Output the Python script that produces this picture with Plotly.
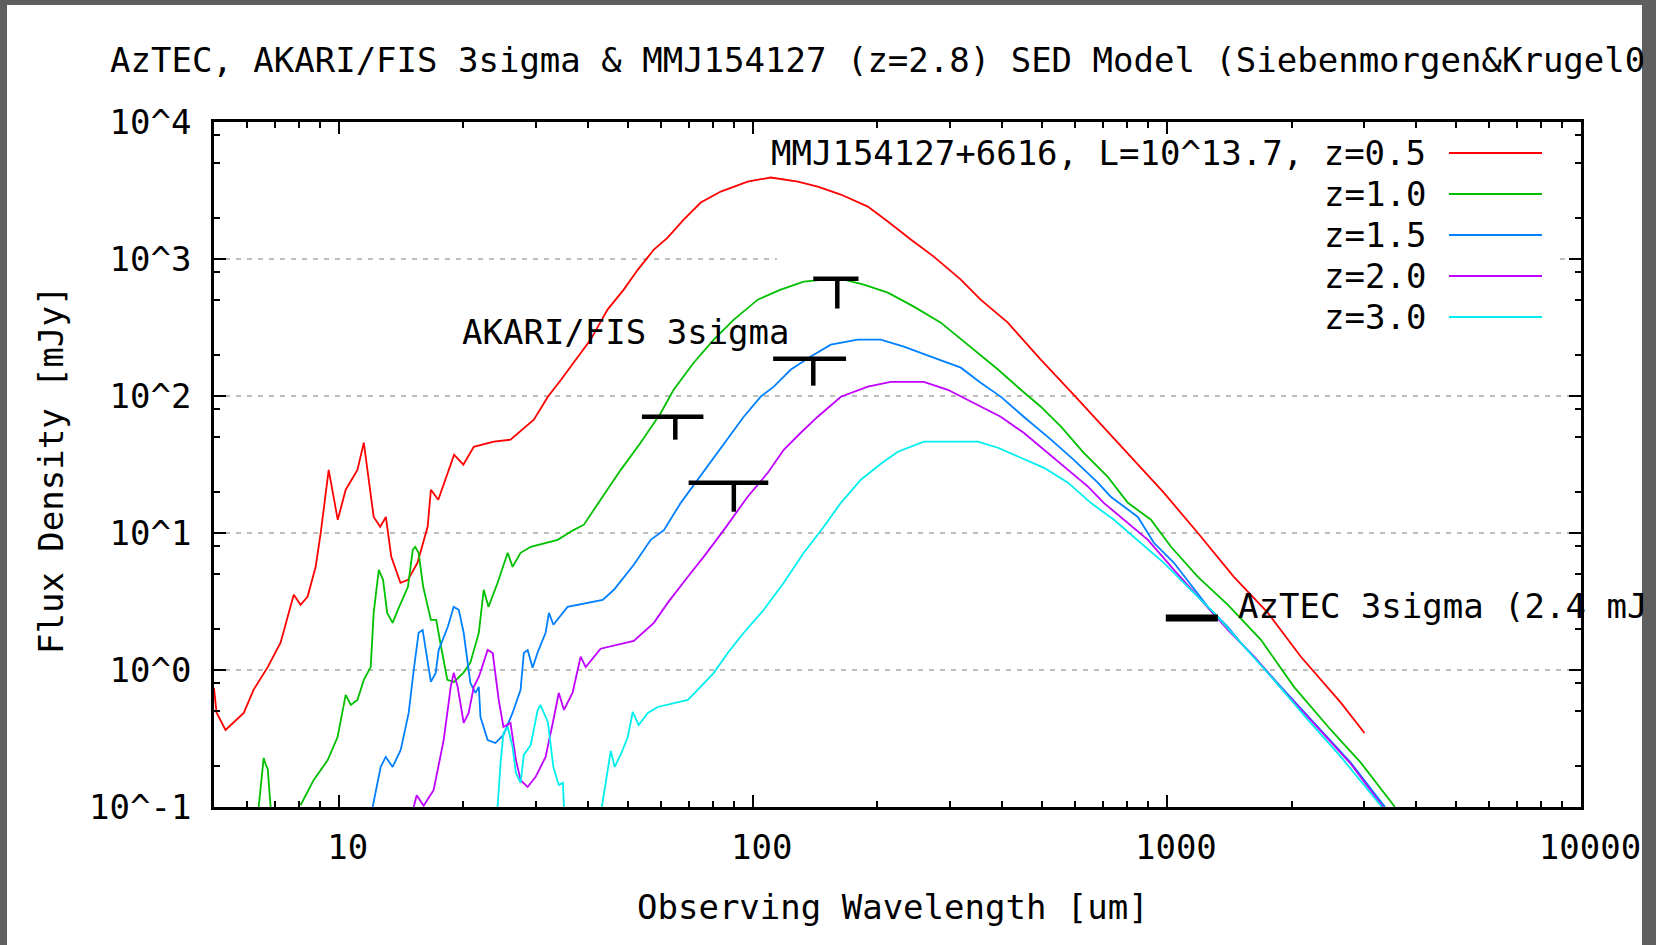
import math
import plotly.graph_objects as go

# ---------------- data ----------------
series_names = ["z=0.5", "z=1.0", "z=1.5", "z=2.0", "z=3.0"]
legend_labels = ["MMJ154127+6616, L=10^13.7, z=0.5", "z=1.0", "z=1.5", "z=2.0", "z=3.0"]
series_colors = ["#ff0000", "#00c000", "#0080ff", "#c000ff", "#00eeee"]

red_wl = [5.0, 5.07, 5.33, 5.90, 6.23, 6.74, 7.24, 7.66, 7.79, 8.09, 8.41, 8.80, 9.05, 9.46, 9.95,
          10.4, 11.1, 11.5, 12.15, 12.6, 13.0, 13.4, 14.1, 14.7, 15.5, 16.4, 16.7, 17.4, 19.0, 20.0,
          21.2, 23.7, 26.0, 29.6, 32.0, 34.4, 36.9, 40.6, 44.6, 48.8, 52.8, 57.7, 62.3, 68.1, 74.9,
          83.7, 97.2, 110.5, 128.5, 143.5, 163.2, 189.6, 211.9, 240.8, 273.6, 318, 355, 413, 496,
          596, 761, 983, 1188, 1451, 1754, 2107, 2633, 3000]
red_f = [0.74, 0.49, 0.365, 0.486, 0.716, 1.05, 1.58, 2.89, 3.54, 2.99, 3.42, 5.66, 10.0, 28.9, 12.5,
         20.7, 28.9, 45.6, 13.1, 11.1, 13.1, 6.70, 4.33, 4.55, 6.06, 11.1, 20.7, 17.5, 37.3, 31.5,
         42.6, 46.4, 48.0, 67.1, 98.8, 131, 175, 258, 427, 598, 837, 1172, 1433, 1940, 2583,
         3106, 3675, 3933, 3675, 3380, 2954, 2414, 1876, 1386, 1041, 707, 505, 343, 184,
         102, 45.6, 19.7, 10.0, 4.79, 2.61, 1.25, 0.575, 0.347]

green_wl = [6.41, 6.59, 6.68, 6.74, 6.85, None,
            8.09, 8.70, 9.41, 9.94, 10.4, 10.7, 11.1, 11.5, 11.95, 12.15, 12.5, 12.8, 13.1, 13.5,
            13.9, 14.7, 15.1, 15.3, 15.6, 16.0, 16.7, 17.2, 17.6, 18.3, 19.0, 20.0, 20.8, 21.8,
            22.4, 23.0, 24.2, 25.6, 26.3, 27.5, 29.1, 33.8, 36.9, 39.1, 42.9, 48.0, 53.6, 60.0,
            64.4, 72.0, 80.5, 90.0, 102.8, 116.8, 132.8, 148.4, 165.9, 185.4, 211.9, 244.9, 284.5,
            342, 391, 444, 496, 555, 630, 720, 805, 915, 1023, 1188, 1404, 1687, 2027, 2489, 2942, 3554]
green_f = [0.1, 0.228, 0.20, 0.19, 0.1, None,
           0.103, 0.157, 0.220, 0.324, 0.658, 0.556, 0.605, 0.847, 1.05, 2.61, 5.38, 4.55, 2.61, 2.21,
           2.75, 4.05, 7.54, 7.93, 7.17, 4.05, 2.32, 2.32, 1.58, 0.847, 0.818, 0.953, 1.13, 1.87,
           3.85, 2.89, 4.33, 7.17, 5.66, 7.17, 7.93, 8.92, 10.5, 11.5, 17.5, 28.9, 45.6, 75.5,
           111, 175, 258, 361, 505, 598, 683, 707, 707, 650, 568, 449, 343,
           218, 156, 111, 83.5, 59.7, 38.5, 25.7, 16.6, 12.5, 7.93, 4.79, 2.99, 1.66, 0.753, 0.365, 0.210, 0.1]

blue_wl = [12.08, 12.63, 12.99, 13.5, 14.12, 14.76, 15.18, 15.6, 15.95, 16.7, 17.15, 17.44, 18.34,
           18.96, 19.5, 20.04, 20.8, 21.4, 21.8, 22.0, 22.9, 23.9, 25.0, 26.3, 27.5, 28.0, 28.6,
           29.4, 30.2, 31.6, 32.2, 33.0, 35.7, 39.9, 43.4, 46.2, 51.6, 56.7, 61.0, 67.0, 73.6,
           77.9, 87.0, 95.1, 104.5, 112.4, 123.6, 138.1, 154.3, 179.3, 203.8, 231.6, 269.2, 318,
           355, 397, 451, 525, 596, 681, 732, 851, 930, 1040, 1256, 1404, 1509, 1623, 1886,
           2316, 2782, 3363]
blue_f = [0.1, 0.196, 0.232, 0.196, 0.261, 0.486, 1.0, 1.87, 1.96, 0.818, 0.953, 1.40, 2.06,
          2.89, 2.75, 1.87, 0.805, 0.681, 0.753, 0.454, 0.308, 0.293, 0.336, 0.486, 0.716, 1.33, 1.40,
          1.04, 1.33, 1.87, 2.61, 2.14, 2.89, 3.09, 3.25, 3.85, 5.86, 8.92, 10.5, 16.6, 24.5,
          30.5, 48.0, 70.6, 98.8, 117, 156, 194, 237, 258, 258, 229, 194, 161,
          125, 99, 70.6, 48.0, 34.2, 23.3, 18.4, 13.1, 8.48, 6.06, 2.89, 2.06, 1.58, 1.25, 0.753,
          0.384, 0.210, 0.1]

purple_wl = [15.18, 15.43, 16.04, 16.96, 17.93, 18.65, 18.96, 19.38, 20.04, 20.6, 21.2, 21.8, 22.9,
             23.55, 24.35, 25.0, 26.0, 26.8, 27.5, 28.6, 29.9, 31.6, 33.0, 34.0, 35.0, 36.7, 38.4,
             39.5, 42.9, 48.0, 51.6, 57.7, 62.3, 69.7, 76.1, 85.1, 97.2, 108.7, 118.8, 130.6, 143.5,
             163.2, 189.6, 215.4, 258.8, 295.8, 342, 397, 451, 516, 577, 645, 704, 805, 900, 1040,
             1208, 1404, 1623, 1886, 2316, 2782, 3325]
purple_f = [0.1, 0.122, 0.102, 0.133, 0.308, 0.753, 0.953, 0.753, 0.411, 0.486, 0.753, 0.890, 1.40,
            1.33, 0.605, 0.384, 0.411, 0.220, 0.157, 0.140, 0.166, 0.232, 0.432, 0.681, 0.511, 0.681, 1.25,
            1.05, 1.43, 1.55, 1.63, 2.21, 3.09, 4.79, 6.70, 10.5, 18.4, 27.5, 40.5, 53.9, 70.6,
            98.8, 117, 127, 127, 111, 89.3, 70.6, 53.9, 38.5, 28.9, 21.8, 16.6, 11.9, 8.92, 5.38,
            3.25, 1.96, 1.25, 0.74, 0.378, 0.206, 0.1]

cyan_wl = [24.2, 24.6, 25.0, 25.6, 26.3, 26.8, 27.5, 28.0, 29.1, 30.2, 30.7, 32.0, 33.0, 34.0, 34.8, 35.0, None,
           43.2, 44.6, 45.4, 46.4, 48.3, 49.9, 51.3, 53.0, 55.8, 58.9, 64.4, 69.7, 73.6, 80.5, 87.0,
           95.1, 106.3, 118.8, 132.8, 148.4, 163.2, 182.4, 203.8, 224, 258.8, 318, 349.5, 391, 444,
           505, 577, 655, 745, 865, 983, 1124, 1299, 1509, 1813, 2191, 2633, 3306]
cyan_f = [0.1, 0.210, 0.347, 0.384, 0.274, 0.177, 0.150, 0.240, 0.284, 0.502, 0.556, 0.418, 0.196, 0.145, 0.150, 0.1, None,
          0.1, 0.177, 0.257, 0.196, 0.252, 0.324, 0.494, 0.397, 0.486, 0.537, 0.575, 0.605, 0.716, 0.953, 1.33,
          1.87, 2.75, 4.33, 7.17, 11.1, 16.6, 24.5, 32.0, 39.2, 46.4, 46.4, 46.4, 41.9, 35.4,
          29.9, 23.3, 16.6, 12.5, 8.48, 6.06, 4.05, 2.61, 1.58, 0.847, 0.432, 0.232, 0.1]

# AKARI/FIS 3 sigma upper limits (band centre, band edges, limit, stem bottom) [um, mJy]
akari_wl = [65, 90, 140, 160]
akari_lo = [54, 70, 112, 140]
akari_hi = [76, 109, 168, 180]
akari_f = [70.6, 23.3, 187, 719]
akari_stem = [48.0, 14.3, 119, 435]

# AzTEC 3 sigma limit
aztec_lo = [994]
aztec_hi = [1328]
aztec_f = [2.4]

x_tickvals = [10, 100, 1000, 10000]
x_ticktext = ["10", "100", "1000", "10000"]
y_tickvals = [0.1, 1, 10, 100, 1000, 10000]
y_ticktext = ["10^-1", "10^0", "10^1", "10^2", "10^3", "10^4"]
x_minor_mantissa = [2, 3, 4, 5, 6, 7, 8, 9]
y_minor_mantissa = [2, 5, 8]
grid_levels = [1, 10, 100]

title_text = "AzTEC, AKARI/FIS 3sigma & MMJ154127 (z=2.8) SED Model (Siebenmorgen&Krugel0"
xlabel = "Observing Wavelength [um]"
ylabel = "Flux Density [mJy]"
akari_label = "AKARI/FIS 3sigma"
aztec_label = "AzTEC 3sigma (2.4 mJ"

# ---------------- layout geometry ----------------
W, H = 1656, 945
L, R, T, B = 214, 1581, 122, 807
FONT = "DejaVu Sans Mono"
FS = 34


def px_x(p):
    return (p - L) / (R - L)


def px_y(p):
    return (B - p) / (B - T)


fig = go.Figure()

all_wl = [red_wl, green_wl, blue_wl, purple_wl, cyan_wl]
all_f = [red_f, green_f, blue_f, purple_f, cyan_f]
for name, wl, fl, col in zip(series_names, all_wl, all_f, series_colors):
    fig.add_trace(go.Scatter(x=wl, y=fl, mode="lines", name=name,
                             line=dict(color=col, width=1.8), showlegend=False,
                             hoverinfo="skip"))

bx, by = [], []
for lo, hi, c, f, s in zip(akari_lo, akari_hi, akari_wl, akari_f, akari_stem):
    bx += [lo, hi, None, c, c, None]
    by += [f, f, None, f, s, None]
fig.add_trace(go.Scatter(x=bx, y=by, mode="lines", line=dict(color="black", width=4.5),
                         showlegend=False, hoverinfo="skip"))

ax_, ay_ = [], []
for lo, hi, f in zip(aztec_lo, aztec_hi, aztec_f):
    ax_ += [lo, hi, None]
    ay_ += [f, f, None]
fig.add_trace(go.Scatter(x=ax_, y=ay_, mode="lines", line=dict(color="black", width=7),
                         showlegend=False, hoverinfo="skip"))

x_minor = [m * 10 ** k for k in range(0, 4) for m in x_minor_mantissa if 5 <= m * 10 ** k <= 10000]
y_minor = [m * 10.0 ** k for k in range(-1, 4) for m in y_minor_mantissa]

tickfont = dict(family=FONT, size=FS, color="black")
axis_common = dict(type="log", showline=True, linecolor="black", linewidth=2.5, mirror="allticks",
                   ticks="inside", ticklen=12, tickwidth=2, tickcolor="black", showgrid=False,
                   zeroline=False, tickfont=tickfont)

shapes = []
# white page inside the grey frame
shapes.append(dict(type="rect", xref="paper", yref="paper", x0=px_x(7), x1=px_x(1642),
                   y0=px_y(H), y1=px_y(5), fillcolor="white", line=dict(width=0), layer="below"))
grid_line = dict(color="#a8a8a8", width=1.6, dash="5px,6px")
for g in grid_levels:
    shapes.append(dict(type="line", xref="x domain", yref="y", x0=0, x1=1, y0=g, y1=g,
                       line=grid_line, layer="below"))
# the 10^3 grid line is interrupted behind the key
shapes.append(dict(type="line", xref="x domain", yref="y", x0=0, x1=px_x(777), y0=1000, y1=1000,
                   line=grid_line, layer="below"))
shapes.append(dict(type="line", xref="x domain", yref="y", x0=px_x(1560), x1=1, y0=1000, y1=1000,
                   line=grid_line, layer="below"))

annotations = []
txt = dict(family=FONT, size=FS, color="black")
annotations.append(dict(text=title_text, xref="paper", yref="paper", x=px_x(108), y=px_y(60),
                        xanchor="left", yanchor="middle", showarrow=False, font=txt))
annotations.append(dict(text=akari_label, xref="paper", yref="paper", x=px_x(460), y=px_y(332),
                        xanchor="left", yanchor="middle", showarrow=False, font=txt))
annotations.append(dict(text=aztec_label, xref="paper", yref="paper", x=px_x(1236), y=px_y(606),
                        xanchor="left", yanchor="middle", showarrow=False, font=txt))
annotations.append(dict(text=xlabel, xref="paper", yref="paper", x=px_x(893), y=px_y(907),
                        xanchor="center", yanchor="middle", showarrow=False, font=txt))
annotations.append(dict(text=ylabel, xref="paper", yref="paper", x=px_x(51), y=px_y(470),
                        xanchor="center", yanchor="middle", showarrow=False, font=txt,
                        textangle=-90))

for i, (lab, col) in enumerate(zip(legend_labels, series_colors)):
    ry = 153 + i * 41
    annotations.append(dict(text=lab, xref="paper", yref="paper", x=px_x(1428), y=px_y(ry),
                            xanchor="right", yanchor="middle", showarrow=False, font=txt))
    shapes.append(dict(type="line", xref="paper", yref="paper", x0=px_x(1449), x1=px_x(1542),
                       y0=px_y(ry), y1=px_y(ry), line=dict(color=col, width=2)))

fig.update_layout(
    width=W, height=H,
    margin=dict(l=L, r=W - R, t=T, b=H - B, pad=0),
    paper_bgcolor="#5f5f5f",
    plot_bgcolor="white",
    showlegend=False,
    xaxis=dict(range=[math.log10(5), 4], tickvals=x_tickvals, ticktext=x_ticktext,
               ticklabelstandoff=8, ticklabelshift=9,
               minor=dict(tickmode="array", tickvals=x_minor, ticks="inside", ticklen=6,
                          tickwidth=2, tickcolor="black", showgrid=False),
               **axis_common),
    yaxis=dict(range=[-1, 4], tickvals=y_tickvals, ticktext=y_ticktext,
               ticklabelstandoff=13,
               minor=dict(tickmode="array", tickvals=y_minor, ticks="inside", ticklen=6,
                          tickwidth=2, tickcolor="black", showgrid=False),
               **axis_common),
    shapes=shapes,
    annotations=annotations,
)

fig.write_html("out.html")
